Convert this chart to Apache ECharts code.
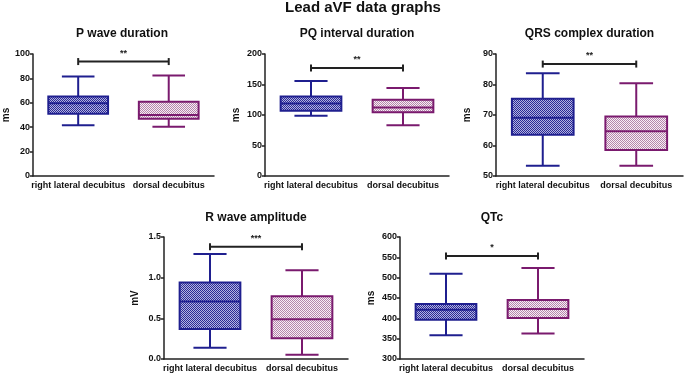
<!DOCTYPE html>
<html>
<head>
<meta charset="utf-8">
<script src="https://cdn.jsdelivr.net/npm/echarts@6/dist/echarts.min.js"></script>
<style>
html, body { margin: 0; padding: 0; background: #fff; }
#chart { width: 685px; height: 374px; }
</style>
</head>
<body>
<div id="chart"></div>
<script>
// categories and panels
var categories = ['right lateral decubitus', 'dorsal decubitus'];
var panelTitles = ['P wave duration', 'PQ interval duration', 'QRS complex duration', 'R wave amplitude', 'QTc'];
var yNames = ['ms', 'ms', 'ms', 'mV', 'ms'];

// box values: [min, Q1, median, Q3, max] for right lateral / dorsal
var pWave = [[41.7, 51.0, 59.7, 65.1, 81.5], [40.3, 46.9, 49.9, 60.8, 82.3]];
var pqInterval = [[98.6, 106.8, 118.8, 130.2, 155.9], [83.4, 104.6, 112.3, 124.8, 144.4]];
var qrsComplex = [[53.4, 63.5, 69.1, 75.3, 83.7], [53.4, 58.5, 64.7, 69.5, 80.4]];
var rWave = [[0.139, 0.368, 0.707, 0.94, 1.29], [0.053, 0.254, 0.49, 0.77, 1.09]];
var qtc = [[358.7, 396.4, 421.0, 435.5, 509.7], [362.9, 400.8, 423.0, 445.0, 524.0]];

// axis ranges: min, max, interval
var yMins = [0, 0, 50, 0, 300];
var yMaxs = [100, 200, 90, 1.5, 600];
var yIntervals = [20, 50, 10, 0.5, 50];

// significance brackets
var sigLevels = [93.8, 177, 86.7, 1.38, 553];
var sigLabels = ['**', '**', '**', '***', '*'];

var allData = [pWave, pqInterval, qrsComplex, rWave, qtc];

var grids = [
	{ left : 30, top : 54, width : 184, height : 122 },
	{ left : 265, top : 54, width : 184, height : 122 },
	{ left : 496, top : 54, width : 187, height : 122 },
	{ left : 164, top : 237, width : 184, height : 122 },
	{ left : 400, top : 237, width : 184, height : 122 }
];
var titleTops = [28, 28, 28, 212, 212];

var lineColors = ['#1f1f8f', '#7a1a6e'];

function makePattern(dot, bg) {
	var cv = document.createElement('canvas');
	cv.width = 2;
	cv.height = 2;
	var ctx = cv.getContext('2d');
	ctx.fillStyle = bg;
	ctx.fillRect(0, 0, 2, 2);
	ctx.fillStyle = dot;
	ctx.fillRect(0, 0, 1, 1);
	ctx.fillRect(1, 1, 1, 1);
	return { image : cv, repeat : 'repeat' };
}
var fills = [makePattern('#2a2a96', '#b4b4e0'), makePattern('#b486ac', '#f8eef4')];

var axisColor = '#222';
var font = 'Liberation Sans, Arial, sans-serif';

var chart = echarts.init(document.getElementById('chart'));

var titles = [{
	text : 'Lead aVF data graphs',
	left : 363,
	top : 0,
	padding : 0,
	textAlign : 'center',
	textStyle : { fontSize : 15, fontWeight : 'bold', color : '#111', fontFamily : font }
}];
var xAxes = [], yAxes = [], series = [];

for (var i = 0; i < 5; i++) {
	titles.push({
		text : panelTitles[i],
		left : grids[i].left + grids[i].width / 2,
		top : titleTops[i],
		padding : 0,
		textAlign : 'center',
		textStyle : { fontSize : 12, fontWeight : 'bold', color : '#111', fontFamily : font }
	});
	xAxes.push({
		type : 'category',
		gridIndex : i,
		data : categories,
		axisLine : { lineStyle : { color : axisColor, width : 1.5 } },
		axisTick : { alignWithLabel : true, length : 4, lineStyle : { color : axisColor, width : 1.5 } },
		axisLabel : { interval : 0, margin : 5, fontSize : 9, fontWeight : 'bold', color : '#111', fontFamily : font }
	});
	yAxes.push({
		type : 'value',
		gridIndex : i,
		min : yMins[i],
		max : yMaxs[i],
		interval : yIntervals[i],
		name : yNames[i],
		nameLocation : 'middle',
		nameRotate : 90,
		nameGap : i === 0 ? 19 : 24,
		nameTextStyle : { fontSize : 10, fontWeight : 'bold', color : '#111', fontFamily : font },
		axisLine : { show : true, lineStyle : { color : axisColor, width : 1.5 } },
		axisTick : { show : true, length : 3, lineStyle : { color : axisColor, width : 1.5 } },
		splitLine : { show : false },
		axisLabel : {
			margin : 3, fontSize : 9, fontWeight : 'bold', color : '#111', fontFamily : font,
			formatter : (function (iv) {
				return function (v) { return iv < 1 ? v.toFixed(1) : String(v); };
			})(yIntervals[i])
		}
	});

	var boxData = allData[i].map(function (b, k) {
		return [k, b[0], b[1], b[2], b[3], b[4]];
	});
	series.push({
		type : 'custom',
		xAxisIndex : i,
		yAxisIndex : i,
		encode : { x : 0, y : [1, 2, 3, 4, 5] },
		data : boxData,
		renderItem : function (params, api) {
			var k = api.value(0);
			var col = lineColors[params.dataIndex];
			var pMin = api.coord([k, api.value(1)]);
			var pQ1 = api.coord([k, api.value(2)]);
			var pMed = api.coord([k, api.value(3)]);
			var pQ3 = api.coord([k, api.value(4)]);
			var pMax = api.coord([k, api.value(5)]);
			var band = api.size([1, 0])[0];
			var cx = pMed[0];
			var hb = band * 0.33;
			var hc = band * 0.18;
			var ls = { stroke : col, lineWidth : 2 };
			return {
				type : 'group',
				children : [
					{ type : 'line', shape : { x1 : cx, y1 : pMax[1], x2 : cx, y2 : pQ3[1] }, style : ls },
					{ type : 'line', shape : { x1 : cx, y1 : pQ1[1], x2 : cx, y2 : pMin[1] }, style : ls },
					{ type : 'line', shape : { x1 : cx - hc, y1 : pMax[1], x2 : cx + hc, y2 : pMax[1] }, style : ls },
					{ type : 'line', shape : { x1 : cx - hc, y1 : pMin[1], x2 : cx + hc, y2 : pMin[1] }, style : ls },
					{
						type : 'rect',
						shape : { x : cx - hb, y : pQ3[1], width : hb * 2, height : pQ1[1] - pQ3[1] },
						style : { fill : fills[params.dataIndex], stroke : col, lineWidth : 2 }
					},
					{ type : 'line', shape : { x1 : cx - hb, y1 : pMed[1], x2 : cx + hb, y2 : pMed[1] }, style : ls }
				]
			};
		}
	});

	series.push({
		type : 'custom',
		xAxisIndex : i,
		yAxisIndex : i,
		encode : { x : 0, y : 2 },
		data : [[0, 1, sigLevels[i]]],
		renderItem : (function (lab) {
			return function (params, api) {
				var a = api.coord([api.value(0), api.value(2)]);
				var b = api.coord([api.value(1), api.value(2)]);
				var ls = { stroke : '#222', lineWidth : 2 };
				return {
					type : 'group',
					children : [
						{ type : 'line', shape : { x1 : a[0], y1 : a[1], x2 : b[0], y2 : b[1] }, style : ls },
						{ type : 'line', shape : { x1 : a[0], y1 : a[1] - 3.5, x2 : a[0], y2 : a[1] + 3.5 }, style : ls },
						{ type : 'line', shape : { x1 : b[0], y1 : b[1] - 3.5, x2 : b[0], y2 : b[1] + 3.5 }, style : ls },
						{
							type : 'text',
							style : {
								text : lab, x : (a[0] + b[0]) / 2, y : a[1] - 4,
								align : 'center', verticalAlign : 'bottom',
								fill : '#222', font : 'bold 9px ' + font
							}
						}
					]
				};
			};
		})(sigLabels[i])
	});
}

chart.setOption({
	animation : false,
	backgroundColor : '#fff',
	title : titles,
	grid : grids,
	xAxis : xAxes,
	yAxis : yAxes,
	series : series
});
</script>
</body>
</html>
